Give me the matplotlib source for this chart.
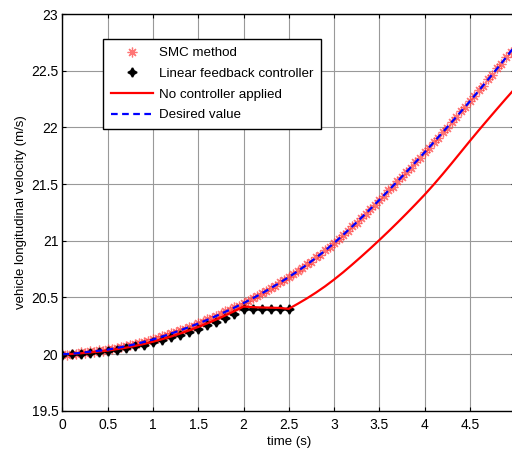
import matplotlib.pyplot as plt
import numpy as np

plt.rcParams['font.family'] = ['Liberation Sans', 'DejaVu Sans']
plt.rcParams['font.size'] = 10

# reference trajectory and the uncontrolled response, sampled every 0.1 s
t_coarse = np.round(np.arange(0, 5.01, 0.1), 2)
desired = [20.000, 20.004, 20.012, 20.022, 20.030, 20.040, 20.055, 20.070, 20.088, 20.108,
           20.130, 20.155, 20.182, 20.210, 20.240, 20.270, 20.303, 20.338, 20.374, 20.411,
           20.450, 20.492, 20.535, 20.582, 20.630, 20.680, 20.733, 20.790, 20.850, 20.913,
           20.980, 21.052, 21.126, 21.202, 21.280, 21.360, 21.442, 21.525, 21.608, 21.693,
           21.780, 21.868, 21.957, 22.047, 22.138, 22.230, 22.325, 22.421, 22.518, 22.617,
           22.720]
no_ctrl = [20.000, 20.002, 20.008, 20.015, 20.023, 20.032, 20.044, 20.057, 20.073, 20.090,
           20.110, 20.132, 20.156, 20.182, 20.210, 20.240, 20.272, 20.306, 20.342, 20.380,
           20.420, 20.415, 20.412, 20.410, 20.408, 20.400, 20.445, 20.492, 20.543, 20.598,
           20.658, 20.722, 20.790, 20.860, 20.932, 21.006, 21.082, 21.160, 21.240, 21.322,
           21.406, 21.495, 21.588, 21.684, 21.782, 21.880, 21.976, 22.070, 22.163, 22.255,
           22.345]

# SMC result, every 0.05 s
t_smc = np.round(np.arange(0, 4.96, 0.05), 2)
smc = [20.000, 19.995, 20.006, 20.004, 20.015, 20.012, 20.024, 20.022, 20.033, 20.031,
       20.043, 20.045, 20.058, 20.060, 20.073, 20.077, 20.091, 20.095, 20.111, 20.116,
       20.133, 20.140, 20.158, 20.166, 20.185, 20.193, 20.213, 20.222, 20.243, 20.252,
       20.273, 20.284, 20.306, 20.318, 20.341, 20.353, 20.377, 20.390, 20.414, 20.428,
       20.453, 20.468, 20.495, 20.510, 20.538, 20.555, 20.585, 20.602, 20.633, 20.652,
       20.683, 20.703, 20.736, 20.758, 20.793, 20.816, 20.853, 20.877, 20.916, 20.942,
       20.983, 21.012, 21.055, 21.085, 21.129, 21.160, 21.205, 21.237, 21.283, 21.316,
       21.363, 21.397, 21.445, 21.479, 21.528, 21.562, 21.611, 21.646, 21.696, 21.733,
       21.783, 21.820, 21.871, 21.908, 21.960, 21.998, 22.050, 22.088, 22.141, 22.180,
       22.233, 22.273, 22.328, 22.368, 22.424, 22.465, 22.521, 22.563, 22.620, 22.663]

# linear feedback controller, stops at 2.5 s
t_lin = np.round(np.arange(0, 2.51, 0.1), 2)
linear = [19.995, 19.998, 20.005, 20.012, 20.020, 20.028, 20.040, 20.053, 20.068, 20.085,
          20.104, 20.125, 20.148, 20.172, 20.198, 20.226, 20.255, 20.286, 20.320, 20.357,
          20.395, 20.400, 20.398, 20.400, 20.397, 20.398]

fig = plt.figure(figsize=(5.12, 4.54), dpi=100)
ax = fig.add_axes([0.122, 0.095, 0.884, 0.874])

ax.plot(t_smc, smc, linestyle='none', marker=(8, 2, 0), markersize=7,
        markeredgewidth=0.9, color='#ff3a3a', alpha=0.7, label='SMC method')
ax.plot(t_lin, linear, linestyle='none', marker=(4, 1, 0), markersize=6.5,
        markeredgewidth=1.2, color='black', label='Linear feedback controller')
ax.plot(t_coarse, no_ctrl, color='red', linewidth=1.6, label='No controller applied')
ax.plot(t_coarse, desired, color='blue', linewidth=1.6, linestyle=(0, (3, 2)),
        label='Desired value')

ax.set_xlim(0, 5)
ax.set_ylim(19.5, 23)
ax.set_xticks([0, 0.5, 1, 1.5, 2, 2.5, 3, 3.5, 4, 4.5])
ax.set_xticklabels(['0', '0.5', '1', '1.5', '2', '2.5', '3', '3.5', '4', '4.5'])
ax.set_yticks([19.5, 20, 20.5, 21, 21.5, 22, 22.5, 23])
ax.set_yticklabels(['19.5', '20', '20.5', '21', '21.5', '22', '22.5', '23'])
ax.tick_params(direction='in', length=3, width=0.8, top=True, right=True)
ax.tick_params(axis='x', pad=5)
ax.tick_params(axis='y', pad=3)
ax.grid(True, color='0.6', linewidth=0.8)
for s in ax.spines.values():
    s.set_linewidth(1.0)

ax.set_xlabel('time (s)', fontsize=9.5, labelpad=3)
ax.set_ylabel('vehicle longitudinal velocity (m/s)', fontsize=9.5, labelpad=3)

leg = ax.legend(loc='upper left', bbox_to_anchor=(0.089, 0.937), fancybox=False,
                framealpha=1, edgecolor='black', handlelength=3.2, labelspacing=0.62,
                borderpad=0.6, handletextpad=0.4, borderaxespad=0, fontsize=9.6)
leg.get_frame().set_linewidth(1.0)

fig.savefig('out.png', dpi=100)
